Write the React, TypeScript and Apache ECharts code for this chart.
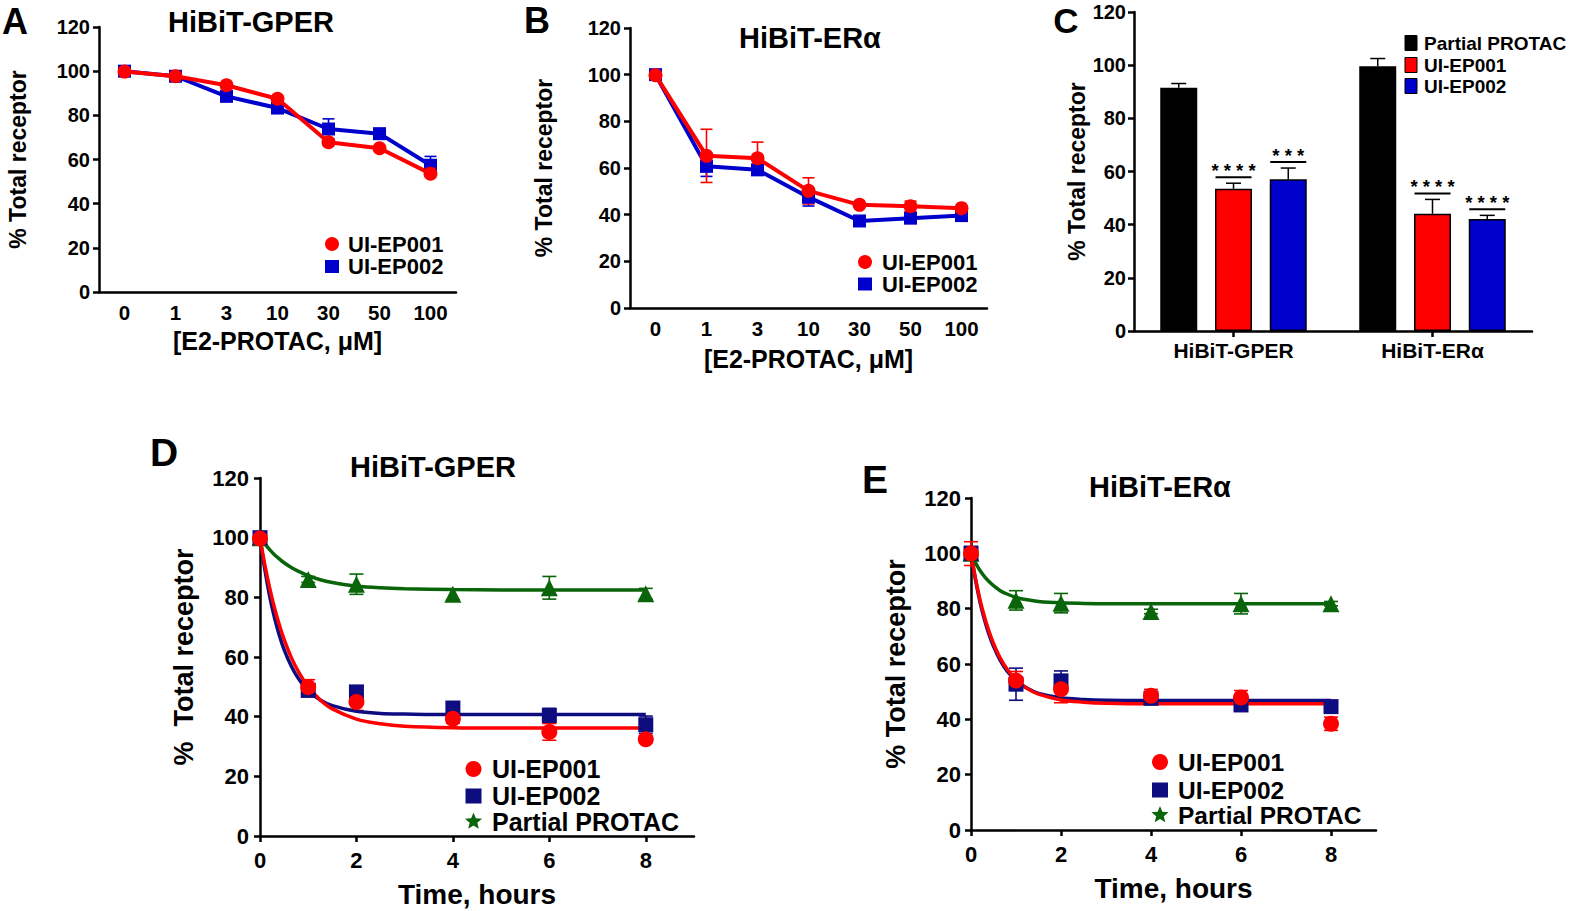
import React, { useEffect, useRef } from "react";
import * as echarts from "echarts";

// ---------- Data ----------
const doseCats = ["0", "1", "3", "10", "30", "50", "100"];
// Panel A: HiBiT-GPER dose response
const gperEP001 = [99.8, 97.7, 93.6, 87.5, 67.8, 65.1, 53.6];
const gperEP001Err = [0.8, 0.8, 0.8, 0.8, 1.5, 0.8, 0.8];
const gperEP002 = [100, 97.7, 88.6, 83.3, 73.8, 71.7, 57.4];
const gperEP002Err = [0.8, 1.0, 1.2, 1.2, 4.6, 0.8, 4.0];
// Panel B: HiBiT-ERα dose response
const eraEP001 = [99.8, 65.2, 64.2, 50.2, 44.2, 43.6, 42.8];
const eraEP001Err = [0.5, 11.4, 6.9, 5.6, 0.8, 2.2, 0.8];
const eraEP002 = [100, 60.7, 59.2, 47.5, 37.3, 38.5, 39.6];
const eraEP002Err = [0.8, 4.3, 1.8, 3.8, 0.8, 0.8, 0.8];
// Panel C: bars
const barCats = ["HiBiT-GPER", "HiBiT-ERα"];
const barPartial = [91.5, 99.6];
const barPartialErr = [1.6, 2.9];
const barEP001 = [53.5, 44.1];
const barEP001Err = [2.1, 5.4];
const barEP002 = [57.1, 42.1];
const barEP002Err = [4.2, 1.4];
const barPartialSig = ["", ""];
const barEP001Sig = ["* * * *", "* * * *"];
const barEP002Sig = ["* * *", "* * * *"];
// Panels D/E: time course
const timePts = [0, 1, 2, 4, 6, 8];
const timeTicks = [0, 2, 4, 6, 8];
const dEP001 = [99.7, 49.9, 44.9, 39.3, 34.9, 32.4];
const dEP001Err = [1.0, 2.5, 2.8, 1.5, 2.8, 1.0];
const dEP002 = [100, 48.8, 48.3, 42.9, 40.4, 37.3];
const dEP002Err = [1.0, 2.0, 2.0, 1.6, 2.4, 2.9];
const dPartial = [100, 86.0, 84.4, 81.0, 83.2, 81.2];
const dPartialErr = [0.5, 1.0, 3.4, 1.8, 3.8, 1.8];
const eEP001 = [99.9, 54.0, 50.9, 48.5, 47.9, 38.4];
const eEP001Err = [4.3, 3.3, 4.9, 2.3, 2.5, 2.4];
const eEP002 = [100, 52.7, 53.9, 47.6, 45.2, 44.6];
const eEP002Err = [2.5, 5.8, 3.6, 1.5, 1.5, 1.5];
const ePartial = [100, 83.0, 82.0, 79.0, 81.8, 81.8];
const ePartialErr = [0.5, 3.5, 3.5, 0.8, 3.7, 0.8];
// fitted one-phase decay curves
const fitT = [0, 0.1, 0.2, 0.3, 0.4, 0.5, 0.65, 0.8, 1, 1.25, 1.5, 2, 2.5, 3, 4, 5, 6, 8];
const dFitEP001 = [100, 90.9, 83.2, 76.5, 70.8, 65.9, 59.8, 55.0, 50.0, 45.6, 42.6, 39.2, 37.6, 36.8, 36.3, 36.2, 36.2, 36.2];
const dFitEP002 = [100, 89.3, 80.4, 73.2, 67.3, 62.5, 56.9, 52.7, 48.7, 45.6, 43.7, 41.8, 41.1, 40.9, 40.7, 40.7, 40.7, 40.7];
const dFitPartial = [100, 97.9, 96.0, 94.3, 92.9, 91.6, 90.0, 88.7, 87.3, 85.9, 85.0, 83.8, 83.2, 82.9, 82.6, 82.5, 82.5, 82.5];
const eFitEP001 = [100, 90.9, 83.3, 77.0, 71.8, 67.4, 62.1, 58.2, 54.3, 51.1, 49.1, 47.0, 46.2, 45.8, 45.6, 45.6, 45.6, 45.6];
const eFitEP002 = [100, 90.4, 82.4, 76.0, 70.7, 66.4, 61.3, 57.5, 54.0, 51.2, 49.4, 47.8, 47.2, 46.9, 46.8, 46.8, 46.8, 46.8];
const eFitPartial = [100, 96.6, 93.8, 91.6, 89.8, 88.3, 86.5, 85.3, 84.1, 83.2, 82.6, 82.1, 81.9, 81.8, 81.8, 81.8, 81.8, 81.8];

// ---------- Styles ----------
const FONT = "'Liberation Sans', Arial, Helvetica, sans-serif";
const RED = "#ff0000";
const BLUE = "#0000cc";
const NAVY = "#0d0d80";
const GREEN = "#0a640a";
const BAR_W = 37;
const BAR_GAP = 0.48;
const BAR_STEP = BAR_W * (1 + BAR_GAP);

const txt = (size: number) => ({ color: "#000", fontWeight: "bold", fontFamily: FONT, fontSize: size });
const axisLine = { show: true, onZero: false, lineStyle: { color: "#000", width: 2.5 } };
const axisTick = (show: boolean) => ({ show, length: 6, alignWithLabel: true, lineStyle: { color: "#000", width: 2.5 } });

function yAx(gridIndex: number, labelSize: number, name: string, nameGap: number, nameSize: number, margin: number) {
  return {
    type: "value", gridIndex, min: 0, max: 120, interval: 20,
    axisLine, axisTick: axisTick(true), splitLine: { show: false },
    axisLabel: { ...txt(labelSize), margin },
    name, nameLocation: "middle", nameGap, nameRotate: 90, nameTextStyle: txt(nameSize),
  };
}
function catX(gridIndex: number, data: string[], labelSize: number, margin: number, tick: boolean, name: string, nameGap: number, nameSize: number) {
  return {
    type: "category", gridIndex, data, boundaryGap: true,
    axisLine, axisTick: axisTick(tick), splitLine: { show: false },
    axisLabel: { ...txt(labelSize), margin },
    name, nameLocation: "middle", nameGap, nameTextStyle: txt(nameSize),
  };
}
function timeX(gridIndex: number) {
  return {
    type: "value", gridIndex, min: 0, max: 9, interval: 2,
    axisLine, splitLine: { show: false },
    axisTick: { ...axisTick(true), customValues: timeTicks },
    axisLabel: { ...txt(22), margin: 13, customValues: timeTicks, formatter: (v: number) => (v % 2 === 0 ? String(v) : "") },
    name: "Time, hours", nameLocation: "middle", nameGap: 44, nameTextStyle: txt(28),
  };
}

function errRenderer(color: string, cap: number, width: number) {
  return (params: any, api: any) => {
    const x = api.value(0);
    const lo = api.coord([x, api.value(1)]);
    const hi = api.coord([x, api.value(2)]);
    const st = { stroke: color, lineWidth: width };
    return {
      type: "group",
      children: [
        { type: "line", shape: { x1: hi[0], y1: hi[1], x2: lo[0], y2: lo[1] }, style: st },
        { type: "line", shape: { x1: hi[0] - cap, y1: hi[1], x2: hi[0] + cap, y2: hi[1] }, style: st },
        { type: "line", shape: { x1: lo[0] - cap, y1: lo[1], x2: lo[0] + cap, y2: lo[1] }, style: st },
      ],
    };
  };
}
function errSeries(ax: number, xs: number[], vals: number[], errs: number[], color: string, cap: number) {
  return {
    type: "custom", xAxisIndex: ax, yAxisIndex: ax, silent: true, z: 1,
    renderItem: errRenderer(color, cap, 1.6),
    encode: { x: 0, y: [1, 2] },
    data: vals.map((v, i) => [xs[i], v - errs[i], v + errs[i]]),
  };
}

// rows for bar error bars / significance marks
const barSets = [
  { vals: barPartial, errs: barPartialErr, sig: barPartialSig },
  { vals: barEP001, errs: barEP001Err, sig: barEP001Sig },
  { vals: barEP002, errs: barEP002Err, sig: barEP002Sig },
];
const cRows: { cat: number; s: number; val: number; err: number; sig: string }[] = [];
barSets.forEach((set, s) => set.vals.forEach((v, c) => cRows.push({ cat: c, s, val: v, err: set.errs[c], sig: set.sig[c] })));

function starPts(cx: number, cy: number, R: number, r: number) {
  const pts: number[][] = [];
  for (let i = 0; i < 10; i++) {
    const a = -Math.PI / 2 + (i * Math.PI) / 5;
    const rad = i % 2 === 0 ? R : r;
    pts.push([cx + rad * Math.cos(a), cy + rad * Math.sin(a)]);
  }
  return pts;
}
function gText(x: number, y: number, text: string, size: number, align = "center") {
  return {
    type: "text", x, y, silent: true,
    style: {
      text, fill: "#000", fontSize: size, fontWeight: "bold", fontFamily: FONT,
      align, verticalAlign: "middle", textAlign: align, textVerticalAlign: "middle",
    },
  };
}
function legendIcon(kind: string, cx: number, cy: number, color: string, s: number) {
  if (kind === "circle") return { type: "circle", shape: { cx, cy, r: s / 2 }, style: { fill: color } };
  if (kind === "rect") return { type: "rect", shape: { x: cx - s / 2, y: cy - s / 2 + 0.5, width: s, height: s - 1 }, style: { fill: color } };
  if (kind === "box") return { type: "rect", shape: { x: cx - 6, y: cy - 7.5, width: 12, height: 15 }, style: { fill: color, stroke: "#000", lineWidth: 1 } };
  return { type: "polygon", shape: { points: starPts(cx, cy, s / 2 + 1, s / 4) }, style: { fill: color } };
}
function legend(items: { kind: string; color: string; label: string }[], cx: number, ys: number[], tx: number, size: number, iconSize: number) {
  const out: any[] = [];
  items.forEach((it, i) => {
    out.push(legendIcon(it.kind, cx, ys[i], it.color, iconSize));
    out.push(gText(tx, ys[i], it.label, size, "left"));
  });
  return out;
}

export default function App() {
  const ref = useRef<HTMLDivElement>(null);
  useEffect(() => {
    if (!ref.current) return;
    const chart = echarts.init(ref.current, null, { renderer: "svg" });
    const idx = doseCats.map((_, i) => i);

    const cErr = {
      type: "custom", xAxisIndex: 2, yAxisIndex: 2, silent: true, z: 5,
      encode: { x: 0, y: 1 },
      data: cRows.map((r) => [r.cat, r.val + r.err]),
      renderItem: (params: any, api: any) => {
        const row = cRows[params.dataIndex];
        const p0 = api.coord([row.cat, row.val]);
        const p1 = api.coord([row.cat, row.val + row.err]);
        const x = p0[0] + (row.s - 1) * BAR_STEP;
        const st = { stroke: "#000", lineWidth: 1.5 };
        const children: any[] = [
          { type: "line", shape: { x1: x, y1: p0[1], x2: x, y2: p1[1] }, style: st },
          { type: "line", shape: { x1: x - 7.5, y1: p1[1], x2: x + 7.5, y2: p1[1] }, style: st },
        ];
        if (row.sig) {
          const ly = p1[1] - 6;
          children.push({ type: "line", shape: { x1: x - 18, y1: ly, x2: x + 18, y2: ly }, style: { stroke: "#000", lineWidth: 2 } });
          children.push({
            type: "text", x, y: ly - 7,
            style: { text: row.sig, fill: "#000", fontSize: 18.5, fontWeight: "bold", fontFamily: FONT, align: "center", verticalAlign: "middle" },
          });
        }
        return { type: "group", children };
      },
    };

    const barSeries = (name: string, data: number[], color: string) => ({
      type: "bar", name, xAxisIndex: 2, yAxisIndex: 2, data, barWidth: BAR_W, barGap: `${BAR_GAP * 100}%`,
      itemStyle: { color, borderColor: "#000", borderWidth: 1.5 }, z: 2,
    });

    const pts = (vals: number[]) => vals.map((v, i) => [timePts[i], v]);
    const fit = (vals: number[]) => vals.map((v, i) => [fitT[i], v]);
    const curve = (ax: number, name: string, vals: number[], color: string, z: number) => ({
      type: "line", name, xAxisIndex: ax, yAxisIndex: ax, data: fit(vals), showSymbol: false, symbol: "none",
      smooth: 0.35, lineStyle: { color, width: 3.5 }, z, silent: true,
    });
    const scat = (ax: number, name: string, vals: number[], color: string, symbol: string, size: number, z: number) => ({
      type: "scatter", name, xAxisIndex: ax, yAxisIndex: ax, data: pts(vals), symbol, symbolSize: size,
      itemStyle: { color, opacity: 1 }, z,
    });
    const doseLine = (ax: number, name: string, vals: number[], color: string, symbol: string, size: number, z: number) => ({
      type: "line", name, xAxisIndex: ax, yAxisIndex: ax, data: vals, symbol, symbolSize: size, showSymbol: true,
      lineStyle: { color, width: 4 }, itemStyle: { color }, z,
    });

    const option: any = {
      animation: false,
      backgroundColor: "#ffffff",
      grid: [
        { left: 99, top: 27, width: 357, height: 265 },
        { left: 630, top: 28, width: 357, height: 280 },
        { left: 1134, top: 12, width: 398, height: 319 },
        { left: 260, top: 478, width: 434, height: 358 },
        { left: 971, top: 498, width: 405, height: 332 },
      ],
      xAxis: [
        catX(0, doseCats, 20.5, 10, false, "[E2-PROTAC, μM]", 36, 25),
        catX(1, doseCats, 20.5, 10, false, "[E2-PROTAC, μM]", 38, 25),
        catX(2, barCats, 21, 9, true, "", 0, 12),
        timeX(3),
        timeX(4),
      ],
      yAxis: [
        yAx(0, 20, "% Total receptor", 70, 23, 9),
        yAx(1, 20, "% Total receptor", 75, 23, 9),
        yAx(2, 20, "% Total receptor", 45, 23, 8),
        yAx(3, 22, "%  Total receptor", 63, 27, 11),
        yAx(4, 22, "% Total receptor", 62, 27, 10),
      ],
      series: [
        // A
        errSeries(0, idx, gperEP002, gperEP002Err, BLUE, 6),
        errSeries(0, idx, gperEP001, gperEP001Err, RED, 6),
        doseLine(0, "UI-EP002", gperEP002, BLUE, "rect", 13, 3),
        doseLine(0, "UI-EP001", gperEP001, RED, "circle", 14, 4),
        // B
        errSeries(1, idx, eraEP002, eraEP002Err, BLUE, 6),
        errSeries(1, idx, eraEP001, eraEP001Err, RED, 6),
        doseLine(1, "UI-EP002", eraEP002, BLUE, "rect", 13, 3),
        doseLine(1, "UI-EP001", eraEP001, RED, "circle", 14, 4),
        // C
        barSeries("Partial PROTAC", barPartial, "#000000"),
        barSeries("UI-EP001", barEP001, RED),
        barSeries("UI-EP002", barEP002, BLUE),
        cErr,
        // D
        errSeries(3, timePts, dPartial, dPartialErr, GREEN, 7),
        errSeries(3, timePts, dEP002, dEP002Err, NAVY, 7),
        errSeries(3, timePts, dEP001, dEP001Err, RED, 7),
        curve(3, "Partial PROTAC", dFitPartial, GREEN, 2),
        curve(3, "UI-EP002", dFitEP002, NAVY, 2),
        curve(3, "UI-EP001", dFitEP001, RED, 3),
        scat(3, "Partial PROTAC", dPartial, GREEN, "triangle", 17, 4),
        scat(3, "UI-EP002", dEP002, NAVY, "rect", 15, 4),
        scat(3, "UI-EP001", dEP001, RED, "circle", 16, 5),
        // E
        errSeries(4, timePts, ePartial, ePartialErr, GREEN, 7),
        errSeries(4, timePts, eEP002, eEP002Err, NAVY, 7),
        errSeries(4, timePts, eEP001, eEP001Err, RED, 7),
        curve(4, "Partial PROTAC", eFitPartial, GREEN, 2),
        curve(4, "UI-EP002", eFitEP002, NAVY, 2),
        curve(4, "UI-EP001", eFitEP001, RED, 3),
        scat(4, "Partial PROTAC", ePartial, GREEN, "triangle", 17, 4),
        scat(4, "UI-EP002", eEP002, NAVY, "rect", 15, 4),
        scat(4, "UI-EP001", eEP001, RED, "circle", 16, 5),
      ],
      graphic: [
        gText(15, 21, "A", 36),
        gText(537, 20, "B", 36),
        gText(1066, 20, "C", 35),
        gText(164, 452, "D", 39),
        gText(875, 479, "E", 39),
        gText(251, 22, "HiBiT-GPER", 29),
        gText(810, 38, "HiBiT-ERα", 29),
        gText(433, 467, "HiBiT-GPER", 29),
        gText(1160, 487, "HiBiT-ERα", 29),
        ...legend(
          [{ kind: "circle", color: RED, label: "UI-EP001" }, { kind: "rect", color: BLUE, label: "UI-EP002" }],
          332, [244, 266.5], 348, 22, 14),
        ...legend(
          [{ kind: "circle", color: RED, label: "UI-EP001" }, { kind: "rect", color: BLUE, label: "UI-EP002" }],
          865, [262, 284], 882, 22, 14),
        ...legend(
          [{ kind: "box", color: "#000", label: "Partial PROTAC" }, { kind: "box", color: RED, label: "UI-EP001" }, { kind: "box", color: BLUE, label: "UI-EP002" }],
          1411, [43, 65, 86], 1424, 19, 14),
        ...legend(
          [{ kind: "circle", color: RED, label: "UI-EP001" }, { kind: "rect", color: NAVY, label: "UI-EP002" }, { kind: "star", color: GREEN, label: "Partial PROTAC" }],
          473.5, [769, 796, 821.5], 492, 25, 16),
        ...legend(
          [{ kind: "circle", color: RED, label: "UI-EP001" }, { kind: "rect", color: NAVY, label: "UI-EP002" }, { kind: "star", color: GREEN, label: "Partial PROTAC" }],
          1160, [762, 790, 815], 1178, 24.5, 16),
      ],
    };
    chart.setOption(option);
    return () => chart.dispose();
  }, []);
  return (
    <div
      ref={ref}
      style={{ position: "absolute", left: 0, top: 0, width: 1572, height: 911, background: "#fff" }}
    />
  );
}
